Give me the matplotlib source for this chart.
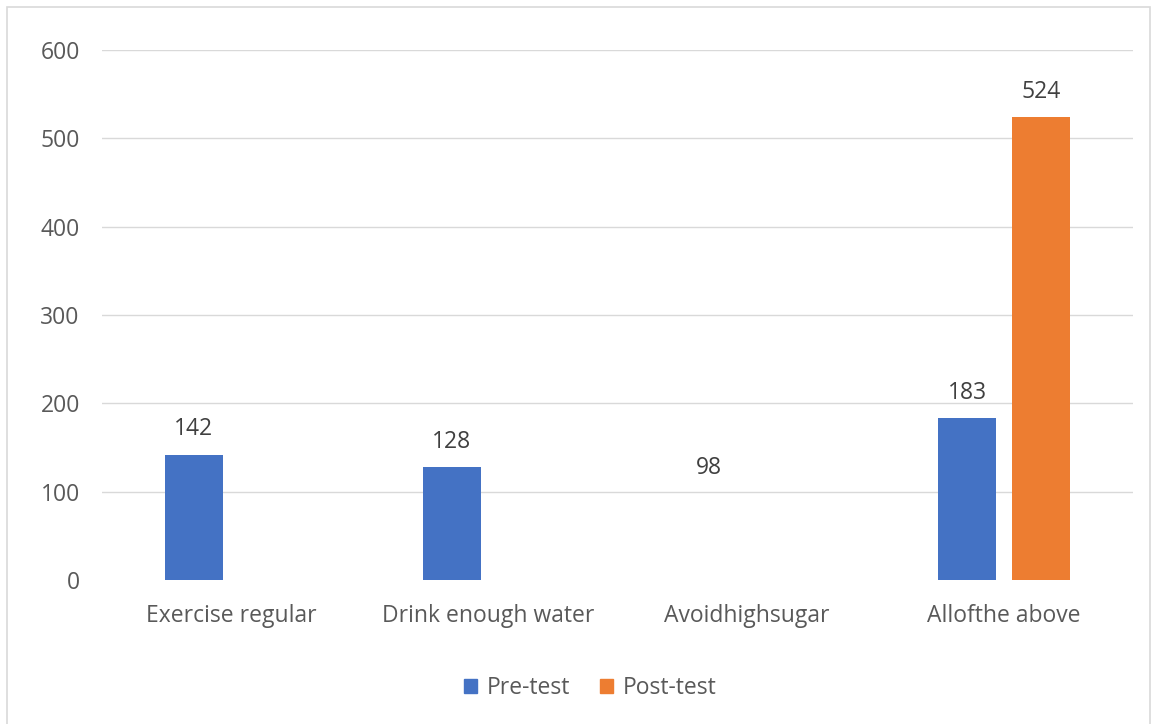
import matplotlib.pyplot as plt
import numpy as np
from matplotlib.patches import Rectangle

plt.rcParams['font.family'] = ['Open Sans', 'DejaVu Sans']

categories = ['Exercise regular', 'Drink enough water', 'Avoidhighsugar', 'Allofthe above']
pre_test = [142, 128, 98, 183]
post_test = [None, None, None, 524]

blue = '#4472c4'
orange = '#ed7d31'
text_col = '#595959'
fs = 16.5

fig = plt.figure(figsize=(11.52, 7.24), dpi=100)
ax = fig.add_axes([102 / 1152, 1 - 580 / 724, (1133 - 102) / 1152, (580 - 50) / 724])

x = np.arange(len(categories))
w = 0.225
off = 0.144

# pre-test bars; the sugar bar has no fill, only its label shows
for i, v in enumerate(pre_test):
    fc = 'none' if categories[i] == 'Avoidhighsugar' else blue
    ax.bar(x[i] - off, v, width=w, color=fc, zorder=3)
    ax.text(x[i] - off, v + 15, str(v), ha='center', va='bottom', fontsize=fs, color='#404040')

for i, v in enumerate(post_test):
    if v is None:
        continue
    ax.bar(x[i] + off, v, width=w, color=orange, zorder=3)
    ax.text(x[i] + off, v + 15, str(v), ha='center', va='bottom', fontsize=fs, color='#404040')

ax.set_xlim(-0.5, 3.5)
ax.set_ylim(0, 600)
ax.set_yticks(range(0, 601, 100))
ax.set_xticks(x)
ax.set_xticklabels(categories)
ax.tick_params(axis='both', length=0, labelsize=fs, labelcolor=text_col)
ax.tick_params(axis='y', pad=16)
ax.tick_params(axis='x', pad=17)
for yv in range(100, 601, 100):
    ax.axhline(yv, color='#d9d9d9', linewidth=1, zorder=0)
for s in ax.spines.values():
    s.set_visible(False)

# legend
handles = [Rectangle((0, 0), 1, 1, color=blue), Rectangle((0, 0), 1, 1, color=orange)]
fig.legend(handles, ['Pre-test', 'Post-test'], loc='center', bbox_to_anchor=(590 / 1152, 1 - 688 / 724),
           ncol=2, frameon=False, fontsize=fs, labelcolor=text_col,
           handlelength=0.6, handleheight=0.6, handletextpad=0.4, columnspacing=1.3)

# outer chart border
fig.patches.append(Rectangle((7 / 1152, -0.01), 1143 / 1152, 1 - 7 / 724 + 0.01, transform=fig.transFigure,
                             fill=False, edgecolor='#d9d9d9', linewidth=1.2))

fig.savefig('out.png', dpi=100, facecolor='white')
